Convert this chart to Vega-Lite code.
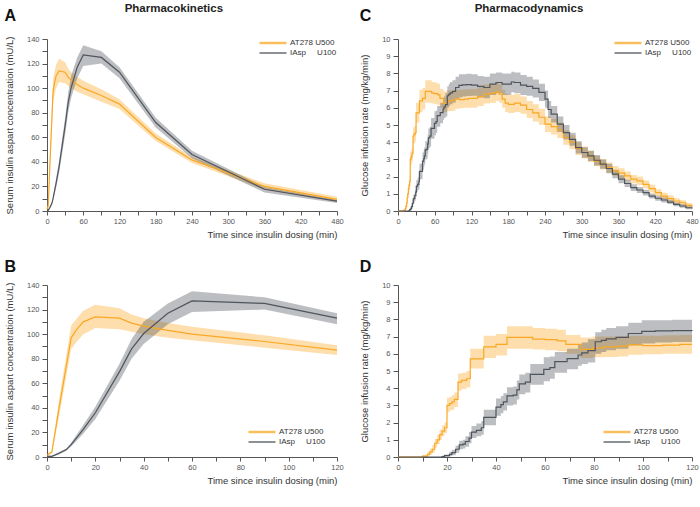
{
"$schema":"https://vega.github.io/schema/vega-lite/v6.json",
"background":"white",
"padding":{"left":4,"top":2,"right":0,"bottom":2},
"config":{"font":"Liberation Sans","view":{"stroke":null},
 "axis":{"grid":false,"labelFontSize":7.5,"labelColor":"#555","titleFontSize":9.5,"titleFontWeight":"normal","titleColor":"#333","domainColor":"#555","tickColor":"#555","tickSize":4,"labelPadding":2,"labelFlush":false},
 "axisY":{"tickSize":5,"labelPadding":3},
 "legend":{"labelFontSize":8,"labelColor":"#333","symbolType":"M-3,0H3","symbolSize":81,"symbolStrokeWidth":1.5,"rowPadding":1,"padding":0,"labelOffset":13},
 "title":{"font":"Liberation Sans"}},
"datasets":{
"pk":[
{"g":"AT278 U500","t":0,"v":1.5,"lo":1,"hi":2},
{"g":"AT278 U500","t":2,"v":4,"lo":3,"hi":5},
{"g":"AT278 U500","t":5,"v":40,"lo":33,"hi":47},
{"g":"AT278 U500","t":10,"v":97,"lo":88,"hi":107},
{"g":"AT278 U500","t":12,"v":103,"lo":93,"hi":112},
{"g":"AT278 U500","t":15,"v":110,"lo":100,"hi":119},
{"g":"AT278 U500","t":20,"v":114,"lo":105,"hi":124},
{"g":"AT278 U500","t":30,"v":113,"lo":104,"hi":121},
{"g":"AT278 U500","t":35,"v":109,"lo":102,"hi":116},
{"g":"AT278 U500","t":40,"v":106.5,"lo":100,"hi":113},
{"g":"AT278 U500","t":50,"v":103,"lo":97,"hi":109},
{"g":"AT278 U500","t":60,"v":100,"lo":95,"hi":106},
{"g":"AT278 U500","t":90,"v":94,"lo":89,"hi":99},
{"g":"AT278 U500","t":120,"v":87,"lo":83,"hi":91},
{"g":"AT278 U500","t":180,"v":59.8,"lo":57,"hi":63},
{"g":"AT278 U500","t":240,"v":41.6,"lo":39,"hi":44},
{"g":"AT278 U500","t":360,"v":20,"lo":17.5,"hi":22.5},
{"g":"AT278 U500","t":480,"v":9.5,"lo":7.5,"hi":11.5},
{"g":"IAsp U100","t":0,"v":0.5,"lo":0,"hi":1},
{"g":"IAsp U100","t":2,"v":0.5,"lo":0,"hi":1},
{"g":"IAsp U100","t":5,"v":3,"lo":2,"hi":4},
{"g":"IAsp U100","t":8,"v":6,"lo":5,"hi":7},
{"g":"IAsp U100","t":10,"v":10,"lo":8.5,"hi":11.5},
{"g":"IAsp U100","t":15,"v":22.5,"lo":19,"hi":26},
{"g":"IAsp U100","t":20,"v":36,"lo":31,"hi":41},
{"g":"IAsp U100","t":30,"v":69.5,"lo":62,"hi":76},
{"g":"IAsp U100","t":35,"v":88,"lo":80,"hi":96},
{"g":"IAsp U100","t":40,"v":100.5,"lo":92,"hi":110},
{"g":"IAsp U100","t":50,"v":117,"lo":108,"hi":125},
{"g":"IAsp U100","t":60,"v":127,"lo":118,"hi":135},
{"g":"IAsp U100","t":90,"v":125,"lo":120,"hi":130},
{"g":"IAsp U100","t":120,"v":113,"lo":108,"hi":117},
{"g":"IAsp U100","t":180,"v":72,"lo":68,"hi":76},
{"g":"IAsp U100","t":240,"v":46,"lo":43,"hi":49},
{"g":"IAsp U100","t":360,"v":17.7,"lo":15,"hi":19.5},
{"g":"IAsp U100","t":480,"v":8,"lo":6.5,"hi":9}
],
"pd":[
{"g":"AT278 U500","t":0,"v":0,"lo":0,"hi":0},
{"g":"AT278 U500","t":10,"v":0.05,"lo":0,"hi":0.1},
{"g":"AT278 U500","t":12,"v":0.15,"lo":0.05,"hi":0.3},
{"g":"AT278 U500","t":13,"v":0.3,"lo":0.15,"hi":0.5},
{"g":"AT278 U500","t":14,"v":0.45,"lo":0.25,"hi":0.7},
{"g":"AT278 U500","t":15,"v":0.8,"lo":0.55,"hi":1.05},
{"g":"AT278 U500","t":16,"v":1.0,"lo":0.75,"hi":1.3},
{"g":"AT278 U500","t":17,"v":1.3,"lo":1.0,"hi":1.6},
{"g":"AT278 U500","t":18,"v":1.5,"lo":1.2,"hi":1.85},
{"g":"AT278 U500","t":19,"v":1.7,"lo":1.4,"hi":2.0},
{"g":"AT278 U500","t":20,"v":3.0,"lo":2.6,"hi":3.45},
{"g":"AT278 U500","t":21,"v":3.1,"lo":2.7,"hi":3.5},
{"g":"AT278 U500","t":22,"v":3.2,"lo":2.75,"hi":3.6},
{"g":"AT278 U500","t":23,"v":3.35,"lo":2.9,"hi":3.75},
{"g":"AT278 U500","t":24.5,"v":4.35,"lo":3.85,"hi":4.85},
{"g":"AT278 U500","t":26,"v":4.45,"lo":3.95,"hi":4.9},
{"g":"AT278 U500","t":28,"v":4.55,"lo":4.05,"hi":5.0},
{"g":"AT278 U500","t":29.5,"v":5.7,"lo":5.15,"hi":6.3},
{"g":"AT278 U500","t":35,"v":6.4,"lo":5.75,"hi":7.05},
{"g":"AT278 U500","t":40,"v":6.55,"lo":5.9,"hi":7.15},
{"g":"AT278 U500","t":44.5,"v":6.95,"lo":6.3,"hi":7.6},
{"g":"AT278 U500","t":55,"v":6.85,"lo":6.25,"hi":7.5},
{"g":"AT278 U500","t":60,"v":6.82,"lo":6.2,"hi":7.45},
{"g":"AT278 U500","t":65,"v":6.75,"lo":6.15,"hi":7.4},
{"g":"AT278 U500","t":68.5,"v":6.55,"lo":6.0,"hi":7.1},
{"g":"AT278 U500","t":74.5,"v":6.26,"lo":5.75,"hi":6.95},
{"g":"AT278 U500","t":79.5,"v":6.35,"lo":5.8,"hi":7.0},
{"g":"AT278 U500","t":84,"v":6.4,"lo":5.82,"hi":7.0},
{"g":"AT278 U500","t":90,"v":6.45,"lo":5.85,"hi":7.02},
{"g":"AT278 U500","t":94,"v":6.52,"lo":5.95,"hi":7.05},
{"g":"AT278 U500","t":100,"v":6.48,"lo":5.98,"hi":7.05},
{"g":"AT278 U500","t":108,"v":6.5,"lo":6.0,"hi":7.08},
{"g":"AT278 U500","t":115,"v":6.55,"lo":6.0,"hi":7.1},
{"g":"AT278 U500","t":120,"v":6.55,"lo":6.0,"hi":7.1},
{"g":"AT278 U500","t":130,"v":6.65,"lo":6.1,"hi":7.2},
{"g":"AT278 U500","t":140,"v":6.8,"lo":6.25,"hi":7.35},
{"g":"AT278 U500","t":150,"v":6.85,"lo":6.3,"hi":7.4},
{"g":"AT278 U500","t":160,"v":6.93,"lo":6.4,"hi":7.45},
{"g":"AT278 U500","t":165,"v":6.8,"lo":6.3,"hi":7.35},
{"g":"AT278 U500","t":170,"v":6.5,"lo":6.0,"hi":7.05},
{"g":"AT278 U500","t":175,"v":6.27,"lo":5.75,"hi":6.8},
{"g":"AT278 U500","t":180,"v":6.2,"lo":5.7,"hi":6.75},
{"g":"AT278 U500","t":190,"v":6.27,"lo":5.75,"hi":6.8},
{"g":"AT278 U500","t":200,"v":6.15,"lo":5.65,"hi":6.65},
{"g":"AT278 U500","t":210,"v":5.9,"lo":5.4,"hi":6.4},
{"g":"AT278 U500","t":220,"v":5.7,"lo":5.2,"hi":6.2},
{"g":"AT278 U500","t":230,"v":5.45,"lo":5.0,"hi":5.95},
{"g":"AT278 U500","t":240,"v":5.05,"lo":4.6,"hi":5.5},
{"g":"AT278 U500","t":250,"v":4.9,"lo":4.45,"hi":5.35},
{"g":"AT278 U500","t":260,"v":4.7,"lo":4.25,"hi":5.15},
{"g":"AT278 U500","t":270,"v":4.27,"lo":3.85,"hi":4.7},
{"g":"AT278 U500","t":280,"v":4.0,"lo":3.6,"hi":4.4},
{"g":"AT278 U500","t":290,"v":3.63,"lo":3.25,"hi":4.0},
{"g":"AT278 U500","t":300,"v":3.4,"lo":3.05,"hi":3.75},
{"g":"AT278 U500","t":310,"v":3.17,"lo":2.85,"hi":3.5},
{"g":"AT278 U500","t":320,"v":2.9,"lo":2.6,"hi":3.2},
{"g":"AT278 U500","t":330,"v":2.72,"lo":2.42,"hi":3.02},
{"g":"AT278 U500","t":340,"v":2.52,"lo":2.22,"hi":2.82},
{"g":"AT278 U500","t":350,"v":2.33,"lo":2.05,"hi":2.62},
{"g":"AT278 U500","t":360,"v":2.2,"lo":1.92,"hi":2.48},
{"g":"AT278 U500","t":370,"v":2.04,"lo":1.78,"hi":2.3},
{"g":"AT278 U500","t":380,"v":1.85,"lo":1.6,"hi":2.1},
{"g":"AT278 U500","t":390,"v":1.75,"lo":1.5,"hi":2.0},
{"g":"AT278 U500","t":400,"v":1.55,"lo":1.32,"hi":1.78},
{"g":"AT278 U500","t":410,"v":1.3,"lo":1.08,"hi":1.52},
{"g":"AT278 U500","t":420,"v":1.07,"lo":0.87,"hi":1.27},
{"g":"AT278 U500","t":430,"v":0.87,"lo":0.68,"hi":1.06},
{"g":"AT278 U500","t":440,"v":0.72,"lo":0.55,"hi":0.9},
{"g":"AT278 U500","t":450,"v":0.58,"lo":0.42,"hi":0.74},
{"g":"AT278 U500","t":460,"v":0.48,"lo":0.33,"hi":0.63},
{"g":"AT278 U500","t":470,"v":0.33,"lo":0.2,"hi":0.46},
{"g":"AT278 U500","t":480,"v":0.25,"lo":0.12,"hi":0.38},
{"g":"IAsp U100","t":0,"v":0,"lo":0,"hi":0},
{"g":"IAsp U100","t":18,"v":0.03,"lo":0,"hi":0.08},
{"g":"IAsp U100","t":19,"v":0.08,"lo":0.02,"hi":0.15},
{"g":"IAsp U100","t":21,"v":0.15,"lo":0.05,"hi":0.3},
{"g":"IAsp U100","t":22,"v":0.25,"lo":0.1,"hi":0.42},
{"g":"IAsp U100","t":23.5,"v":0.45,"lo":0.25,"hi":0.65},
{"g":"IAsp U100","t":25,"v":0.7,"lo":0.45,"hi":0.95},
{"g":"IAsp U100","t":26.5,"v":0.75,"lo":0.5,"hi":1.0},
{"g":"IAsp U100","t":27.5,"v":0.9,"lo":0.6,"hi":1.2},
{"g":"IAsp U100","t":29,"v":1.1,"lo":0.8,"hi":1.45},
{"g":"IAsp U100","t":30,"v":1.45,"lo":1.1,"hi":1.8},
{"g":"IAsp U100","t":32,"v":1.55,"lo":1.2,"hi":1.95},
{"g":"IAsp U100","t":34,"v":1.7,"lo":1.3,"hi":2.1},
{"g":"IAsp U100","t":35,"v":2.3,"lo":1.85,"hi":2.75},
{"g":"IAsp U100","t":40,"v":2.9,"lo":2.4,"hi":3.4},
{"g":"IAsp U100","t":42,"v":3.05,"lo":2.55,"hi":3.55},
{"g":"IAsp U100","t":43,"v":3.2,"lo":2.7,"hi":3.7},
{"g":"IAsp U100","t":44.5,"v":3.55,"lo":3.0,"hi":4.05},
{"g":"IAsp U100","t":47,"v":3.6,"lo":3.05,"hi":4.1},
{"g":"IAsp U100","t":48.5,"v":3.9,"lo":3.35,"hi":4.45},
{"g":"IAsp U100","t":49.5,"v":4.25,"lo":3.65,"hi":4.8},
{"g":"IAsp U100","t":52,"v":4.35,"lo":3.75,"hi":4.9},
{"g":"IAsp U100","t":54,"v":4.8,"lo":4.2,"hi":5.4},
{"g":"IAsp U100","t":59.5,"v":5.1,"lo":4.4,"hi":5.8},
{"g":"IAsp U100","t":62,"v":5.2,"lo":4.55,"hi":5.85},
{"g":"IAsp U100","t":64,"v":5.55,"lo":4.9,"hi":6.1},
{"g":"IAsp U100","t":69,"v":5.72,"lo":5.1,"hi":6.3},
{"g":"IAsp U100","t":73.5,"v":5.93,"lo":5.3,"hi":6.55},
{"g":"IAsp U100","t":75,"v":6.05,"lo":5.4,"hi":6.65},
{"g":"IAsp U100","t":77.5,"v":6.18,"lo":5.5,"hi":6.85},
{"g":"IAsp U100","t":80.5,"v":6.7,"lo":6.0,"hi":7.25},
{"g":"IAsp U100","t":83,"v":6.78,"lo":6.1,"hi":7.4},
{"g":"IAsp U100","t":85,"v":6.87,"lo":6.2,"hi":7.5},
{"g":"IAsp U100","t":89,"v":6.95,"lo":6.3,"hi":7.6},
{"g":"IAsp U100","t":94,"v":7.18,"lo":6.5,"hi":7.8},
{"g":"IAsp U100","t":99.5,"v":7.3,"lo":6.6,"hi":7.95},
{"g":"IAsp U100","t":105,"v":7.33,"lo":6.65,"hi":7.95},
{"g":"IAsp U100","t":112,"v":7.35,"lo":6.68,"hi":7.98},
{"g":"IAsp U100","t":120,"v":7.32,"lo":6.7,"hi":7.95},
{"g":"IAsp U100","t":130,"v":7.24,"lo":6.6,"hi":7.85},
{"g":"IAsp U100","t":140,"v":7.18,"lo":6.55,"hi":7.8},
{"g":"IAsp U100","t":150,"v":7.38,"lo":6.75,"hi":8.0},
{"g":"IAsp U100","t":160,"v":7.47,"lo":6.85,"hi":8.05},
{"g":"IAsp U100","t":170,"v":7.38,"lo":6.75,"hi":8.0},
{"g":"IAsp U100","t":180,"v":7.38,"lo":6.75,"hi":8.0},
{"g":"IAsp U100","t":185,"v":7.5,"lo":6.9,"hi":8.1},
{"g":"IAsp U100","t":190,"v":7.47,"lo":6.85,"hi":8.05},
{"g":"IAsp U100","t":200,"v":7.32,"lo":6.75,"hi":7.9},
{"g":"IAsp U100","t":210,"v":7.24,"lo":6.7,"hi":7.8},
{"g":"IAsp U100","t":220,"v":7.13,"lo":6.6,"hi":7.65},
{"g":"IAsp U100","t":230,"v":6.9,"lo":6.4,"hi":7.4},
{"g":"IAsp U100","t":240,"v":6.5,"lo":6.0,"hi":7.0},
{"g":"IAsp U100","t":245,"v":5.9,"lo":5.4,"hi":6.4},
{"g":"IAsp U100","t":250,"v":5.63,"lo":5.15,"hi":6.1},
{"g":"IAsp U100","t":260,"v":5.05,"lo":4.6,"hi":5.5},
{"g":"IAsp U100","t":270,"v":4.56,"lo":4.15,"hi":5.0},
{"g":"IAsp U100","t":280,"v":4.17,"lo":3.8,"hi":4.55},
{"g":"IAsp U100","t":290,"v":3.69,"lo":3.35,"hi":4.05},
{"g":"IAsp U100","t":300,"v":3.4,"lo":3.1,"hi":3.7},
{"g":"IAsp U100","t":310,"v":3.2,"lo":2.9,"hi":3.5},
{"g":"IAsp U100","t":320,"v":2.95,"lo":2.65,"hi":3.25},
{"g":"IAsp U100","t":330,"v":2.72,"lo":2.45,"hi":3.0},
{"g":"IAsp U100","t":340,"v":2.47,"lo":2.2,"hi":2.75},
{"g":"IAsp U100","t":350,"v":2.14,"lo":1.9,"hi":2.4},
{"g":"IAsp U100","t":360,"v":1.85,"lo":1.62,"hi":2.08},
{"g":"IAsp U100","t":370,"v":1.6,"lo":1.4,"hi":1.82},
{"g":"IAsp U100","t":380,"v":1.36,"lo":1.17,"hi":1.55},
{"g":"IAsp U100","t":390,"v":1.22,"lo":1.04,"hi":1.4},
{"g":"IAsp U100","t":400,"v":1.07,"lo":0.9,"hi":1.24},
{"g":"IAsp U100","t":410,"v":0.87,"lo":0.72,"hi":1.02},
{"g":"IAsp U100","t":420,"v":0.74,"lo":0.6,"hi":0.88},
{"g":"IAsp U100","t":430,"v":0.64,"lo":0.5,"hi":0.78},
{"g":"IAsp U100","t":440,"v":0.52,"lo":0.4,"hi":0.65},
{"g":"IAsp U100","t":450,"v":0.39,"lo":0.28,"hi":0.5},
{"g":"IAsp U100","t":460,"v":0.29,"lo":0.19,"hi":0.39},
{"g":"IAsp U100","t":470,"v":0.19,"lo":0.1,"hi":0.28},
{"g":"IAsp U100","t":480,"v":0.15,"lo":0.06,"hi":0.24}
]},
"spacing":15,
"hconcat":[
{"title":{"text":"Pharmacokinetics","fontSize":11.5,"fontWeight":"bold","color":"#222","anchor":"middle","offset":-6},
 "spacing":20,
 "vconcat":[
 {"width":290,"height":172,
  "title":{"text":"A","anchor":"start","frame":"bounds","fontSize":16,"fontWeight":"bold","color":"#111","offset":11},
  "data":{"name":"pk"},
  "encoding":{"x":{"field":"t","type":"quantitative","scale":{"domain":[0,480],"nice":false},
     "axis":{"values":[0,30,60,90,120,150,180,210,240,270,300,330,360,390,420,450,480],"labelOverlap":false,"labelExpr":"datum.value % 60 == 0 ? datum.label : ''","title":"Time since insulin dosing (min)","titleAnchor":"end","titlePadding":5}}},
  "layer":[
   {"mark":{"type":"area","opacity":0.38},
    "encoding":{"y":{"field":"lo","type":"quantitative","scale":{"domain":[0,140],"nice":false},
       "axis":{"values":[0,10,20,30,40,50,60,70,80,90,100,110,120,130,140],"labelOverlap":false,"labelExpr":"datum.value % 20 == 0 ? datum.label : ''","title":"Serum insulin aspart concentration (mU/L)","titlePadding":12}},
     "y2":{"field":"hi"},
     "fill":{"field":"g","type":"nominal","scale":{"domain":["AT278 U500","IAsp U100"],"range":["#F9A825","#4F555C"]},"legend":null}}},
   {"mark":{"type":"line","strokeWidth":1.2},
    "encoding":{"y":{"field":"v","type":"quantitative","scale":{"domain":[0,140],"nice":false},
       "axis":{"values":[0,10,20,30,40,50,60,70,80,90,100,110,120,130,140],"labelOverlap":false,"labelExpr":"datum.value % 20 == 0 ? datum.label : ''","title":"Serum insulin aspart concentration (mU/L)","titlePadding":12}},
     "stroke":{"field":"g","type":"nominal","scale":{"domain":["AT278 U500","IAsp U100"],"range":["#F9A825","#4F555C"]},
      "legend":{"title":null,"orient":"top-right","offset":0,"labelExpr":"datum.label == 'IAsp U100' ? 'IAsp\u00a0\u00a0\u00a0\u00a0\u00a0U100' : datum.label",
        "symbolStrokeWidth":{"expr":"1.5"},
        "encode":{"symbols":{"update":{"strokeWidth":{"signal":"datum.value == 'AT278 U500' ? 2.5 : 1.3"},"strokeOpacity":{"signal":"datum.value == 'AT278 U500' ? 0.75 : 1"}}}}}}}}
  ]},
 {"width":290,"height":172,
  "title":{"text":"B","anchor":"start","frame":"bounds","fontSize":16,"fontWeight":"bold","color":"#111","offset":6},
  "data":{"name":"pk"},
  "transform":[{"filter":"datum.t <= 120"}],
  "encoding":{"x":{"field":"t","type":"quantitative","scale":{"domain":[0,120],"nice":false},
     "axis":{"values":[0,10,20,30,40,50,60,70,80,90,100,110,120],"labelOverlap":false,"labelExpr":"datum.value % 20 == 0 ? datum.label : ''","title":"Time since insulin dosing (min)","titleAnchor":"end","titlePadding":5}}},
  "layer":[
   {"mark":{"type":"area","opacity":0.38},
    "encoding":{"y":{"field":"lo","type":"quantitative","scale":{"domain":[0,140],"nice":false},
       "axis":{"values":[0,10,20,30,40,50,60,70,80,90,100,110,120,130,140],"labelOverlap":false,"labelExpr":"datum.value % 20 == 0 ? datum.label : ''","title":"Serum insulin aspart concentration (mU/L)","titlePadding":12}},
     "y2":{"field":"hi"},
     "fill":{"field":"g","type":"nominal","scale":{"domain":["AT278 U500","IAsp U100"],"range":["#F9A825","#4F555C"]},"legend":null}}},
   {"mark":{"type":"line","strokeWidth":1.2},
    "encoding":{"y":{"field":"v","type":"quantitative","scale":{"domain":[0,140],"nice":false},
       "axis":{"values":[0,10,20,30,40,50,60,70,80,90,100,110,120,130,140],"labelOverlap":false,"labelExpr":"datum.value % 20 == 0 ? datum.label : ''","title":"Serum insulin aspart concentration (mU/L)","titlePadding":12}},
     "stroke":{"field":"g","type":"nominal","scale":{"domain":["AT278 U500","IAsp U100"],"range":["#F9A825","#4F555C"]},
      "legend":{"title":null,"orient":"bottom-right","offset":11,"labelExpr":"datum.label == 'IAsp U100' ? 'IAsp\u00a0\u00a0\u00a0\u00a0\u00a0U100' : datum.label",
        "encode":{"symbols":{"update":{"strokeWidth":{"signal":"datum.value == 'AT278 U500' ? 2.5 : 1.3"},"strokeOpacity":{"signal":"datum.value == 'AT278 U500' ? 0.75 : 1"}}}}}}}}
  ]}
 ]},
{"title":{"text":"Pharmacodynamics","fontSize":11.5,"fontWeight":"bold","color":"#222","anchor":"middle","offset":-6},
 "spacing":20,
 "vconcat":[
 {"width":294,"height":172,
  "title":{"text":"C","anchor":"start","frame":"bounds","fontSize":16,"fontWeight":"bold","color":"#111","offset":11},
  "data":{"name":"pd"},
  "encoding":{"x":{"field":"t","type":"quantitative","scale":{"domain":[0,480],"nice":false},
     "axis":{"values":[0,30,60,90,120,150,180,210,240,270,300,330,360,390,420,450,480],"labelOverlap":false,"labelExpr":"datum.value % 60 == 0 ? datum.label : ''","title":"Time since insulin dosing (min)","titleAnchor":"end","titlePadding":5}}},
  "layer":[
   {"mark":{"type":"area","opacity":0.38,"interpolate":"step-after"},
    "encoding":{"y":{"field":"lo","type":"quantitative","scale":{"domain":[0,10],"nice":false},
       "axis":{"values":[0,1,2,3,4,5,6,7,8,9,10],"labelOverlap":false,"title":"Glucose infusion rate (mg/kg/min)","titlePadding":12}},
     "y2":{"field":"hi"},
     "fill":{"field":"g","type":"nominal","scale":{"domain":["AT278 U500","IAsp U100"],"range":["#F9A825","#4F555C"]},"legend":null}}},
   {"mark":{"type":"line","strokeWidth":1.2,"interpolate":"step-after"},
    "encoding":{"y":{"field":"v","type":"quantitative","scale":{"domain":[0,10],"nice":false},
       "axis":{"values":[0,1,2,3,4,5,6,7,8,9,10],"labelOverlap":false,"title":"Glucose infusion rate (mg/kg/min)","titlePadding":12}},
     "stroke":{"field":"g","type":"nominal","scale":{"domain":["AT278 U500","IAsp U100"],"range":["#F9A825","#4F555C"]},
      "legend":{"title":null,"orient":"top-right","offset":0,"labelExpr":"datum.label == 'IAsp U100' ? 'IAsp\u00a0\u00a0\u00a0\u00a0\u00a0U100' : datum.label",
        "encode":{"symbols":{"update":{"strokeWidth":{"signal":"datum.value == 'AT278 U500' ? 2.5 : 1.3"},"strokeOpacity":{"signal":"datum.value == 'AT278 U500' ? 0.75 : 1"}}}}}}}}
  ]},
 {"width":294,"height":172,
  "title":{"text":"D","anchor":"start","frame":"bounds","fontSize":16,"fontWeight":"bold","color":"#111","offset":6},
  "data":{"name":"pd"},
  "transform":[{"filter":"datum.t <= 120"}],
  "encoding":{"x":{"field":"t","type":"quantitative","scale":{"domain":[0,120],"nice":false},
     "axis":{"values":[0,10,20,30,40,50,60,70,80,90,100,110,120],"labelOverlap":false,"labelExpr":"datum.value % 20 == 0 ? datum.label : ''","title":"Time since insulin dosing (min)","titleAnchor":"end","titlePadding":5}}},
  "layer":[
   {"mark":{"type":"area","opacity":0.38,"interpolate":"step-after"},
    "encoding":{"y":{"field":"lo","type":"quantitative","scale":{"domain":[0,10],"nice":false},
       "axis":{"values":[0,1,2,3,4,5,6,7,8,9,10],"labelOverlap":false,"title":"Glucose infusion rate (mg/kg/min)","titlePadding":12}},
     "y2":{"field":"hi"},
     "fill":{"field":"g","type":"nominal","scale":{"domain":["AT278 U500","IAsp U100"],"range":["#F9A825","#4F555C"]},"legend":null}}},
   {"mark":{"type":"line","strokeWidth":1.2,"interpolate":"step-after"},
    "encoding":{"y":{"field":"v","type":"quantitative","scale":{"domain":[0,10],"nice":false},
       "axis":{"values":[0,1,2,3,4,5,6,7,8,9,10],"labelOverlap":false,"title":"Glucose infusion rate (mg/kg/min)","titlePadding":12}},
     "stroke":{"field":"g","type":"nominal","scale":{"domain":["AT278 U500","IAsp U100"],"range":["#F9A825","#4F555C"]},
      "legend":{"title":null,"orient":"bottom-right","offset":11,"labelExpr":"datum.label == 'IAsp U100' ? 'IAsp\u00a0\u00a0\u00a0\u00a0\u00a0U100' : datum.label",
        "encode":{"symbols":{"update":{"strokeWidth":{"signal":"datum.value == 'AT278 U500' ? 2.5 : 1.3"},"strokeOpacity":{"signal":"datum.value == 'AT278 U500' ? 0.75 : 1"}}}}}}}}
  ]}
 ]}
]
}
